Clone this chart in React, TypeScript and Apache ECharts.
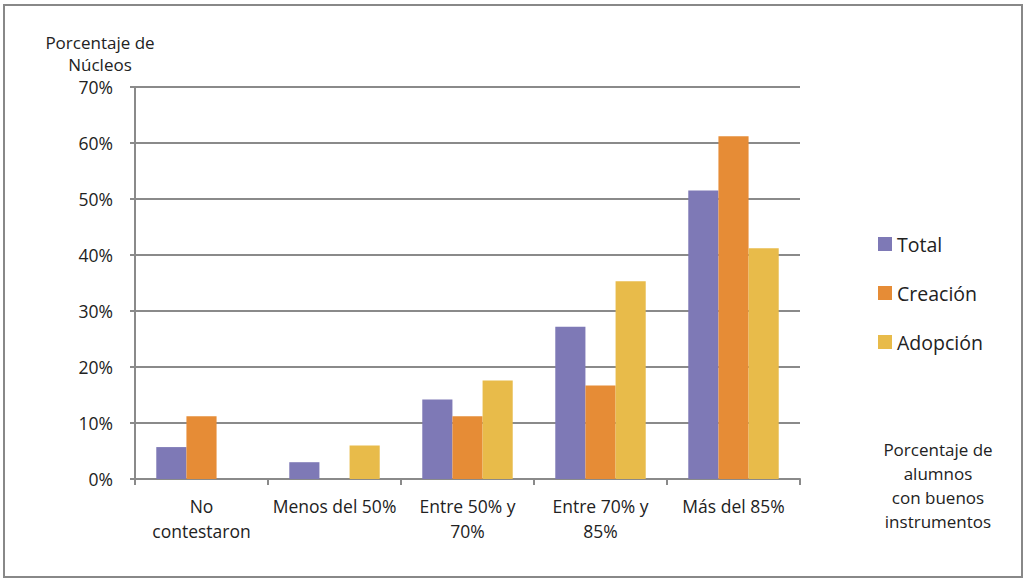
import React, { useEffect, useRef } from "react";
import * as echarts from "echarts";

const categories = ["No\ncontestaron", "Menos del 50%", "Entre 50% y\n70%", "Entre 70% y\n85%", "Más del 85%"];
const seriesNames = ["Total", "Creación", "Adopción"];
const totalValues = [5.7, 3.0, 14.2, 27.2, 51.5];
const creacionValues = [11.2, 0, 11.2, 16.7, 61.2];
const adopcionValues = [0, 6.0, 17.6, 35.3, 41.2];
const yTicks = [0, 10, 20, 30, 40, 50, 60, 70];
const yAxisTitle = "Porcentaje de\nNúcleos";
const xAxisTitle = "Porcentaje de\nalumnos\ncon buenos\ninstrumentos";

const colors = ["#7e79b6", "#e68c36", "#e8bb4a"];
const FONT = "'Open Sans', sans-serif";
const GRAY = "#8a8a8a";

export default function App() {
  const ref = useRef<HTMLDivElement>(null);
  useEffect(() => {
    document.body.style.margin = "0";
    const chart = echarts.init(ref.current!, null, { renderer: "svg" });
    const data = [totalValues, creacionValues, adopcionValues];
    chart.setOption({
      animation: false,
      backgroundColor: "#ffffff",
      textStyle: { fontFamily: FONT },
      grid: { left: 135, right: 227, top: 87, bottom: 101, containLabel: false },
      legend: {
        orient: "vertical",
        left: 873,
        top: 229,
        itemWidth: 14,
        itemHeight: 14,
        itemGap: 29,
        icon: "rect",
        textStyle: { fontFamily: FONT, fontSize: 19.5, color: "#222" },
        data: seriesNames,
      },
      xAxis: {
        type: "category",
        data: categories,
        axisLine: { lineStyle: { color: GRAY, width: 2 } },
        axisTick: { show: true, alignWithLabel: false, length: 6, lineStyle: { color: GRAY, width: 2 } },
        axisLabel: {
          interval: 0,
          color: "#222",
          fontFamily: FONT,
          fontSize: 17.5,
          lineHeight: 25,
          margin: 14,
        },
      },
      yAxis: {
        type: "value",
        min: 0,
        max: 70,
        interval: 10,
        axisLine: { show: true, lineStyle: { color: GRAY, width: 2 } },
        axisTick: { show: true, length: 5, lineStyle: { color: GRAY, width: 2 } },
        splitLine: { show: true, lineStyle: { color: GRAY, width: 2 } },
        axisLabel: {
          color: "#222",
          fontFamily: FONT,
          fontSize: 17.5,
          lineHeight: 16,
          margin: 22,
          formatter: (v: number) => (yTicks.includes(v) ? v + "%" : ""),
        },
      },
      series: seriesNames.map((name, i) => ({
        name,
        type: "bar",
        data: data[i],
        barGap: "0%",
        barCategoryGap: "32%",
        itemStyle: { color: colors[i] },
      })),
      graphic: [
        {
          type: "rect",
          shape: { x: 4, y: 5, width: 1018, height: 572 },
          style: { fill: "none", stroke: "#888", lineWidth: 2 },
          silent: true,
        },
        {
          type: "text",
          x: 100,
          y: 31,
          style: {
            text: yAxisTitle,
            fontFamily: FONT,
            fontSize: 17,
            lineHeight: 22,
            fill: "#222",
            align: "center",
          },
        },
        {
          type: "text",
          x: 938,
          y: 437,
          style: {
            text: xAxisTitle,
            fontFamily: FONT,
            fontSize: 17,
            lineHeight: 24,
            fill: "#222",
            align: "center",
          },
        },
      ],
    });
    return () => chart.dispose();
  }, []);
  return <div ref={ref} style={{ width: 1027, height: 580 }} />;
}
